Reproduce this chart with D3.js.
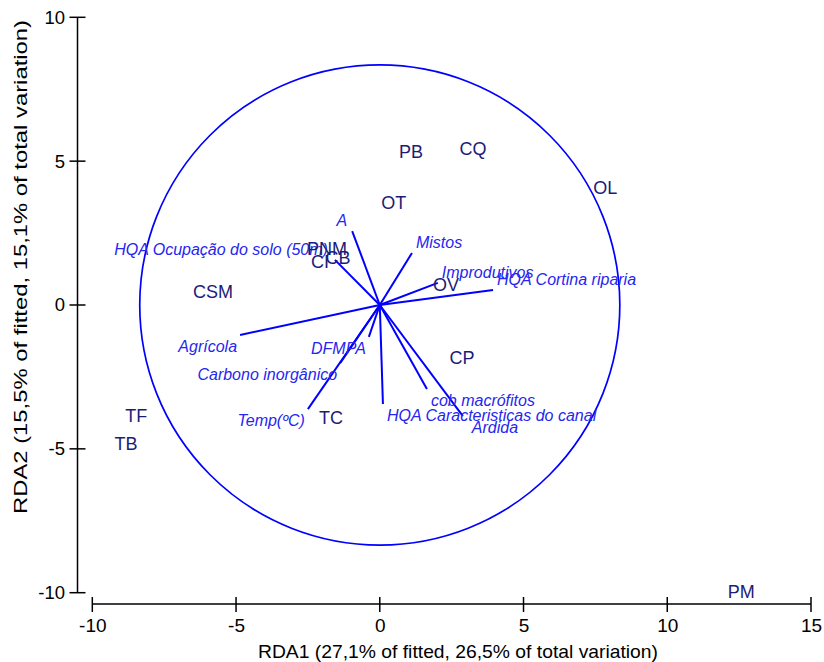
<!DOCTYPE html>
<html>
<head>
<meta charset="utf-8">
<script src="https://cdn.jsdelivr.net/npm/d3@7"></script>
<style>
  body { margin: 0; background: #fff; }
  svg { display: block; font-family: "Liberation Sans", Arial, sans-serif; }
</style>
</head>
<body>
<svg id="chart" width="824" height="662"></svg>
<script>
// ---- data ----
const siteNames = ["PB","CQ","OT","OL","PNM","CI","CB","CSM","OV","CP","TC","TF","TB","PM"];
const siteX     = [1.09, 3.24, 0.49, 7.84, -1.84, -2.08, -1.45, -5.80, 2.30, 2.86, -1.70, -8.47, -8.83, 12.57];
const siteY     = [5.32, 5.43, 3.55, 4.07, 1.95, 1.50, 1.63, 0.45, 0.70, -1.84, -3.90, -3.86, -4.83, -9.95];

const envNames = ["A","HQA Ocupação do solo (50m)","Mistos","Improdutivos","HQA Cortina riparia","Agrícola",
                  "DFMPA","Carbono inorgânico","Temp(ºC)","HQA Caracteristicas do canal","cob macrófitos","Ardida"];
const envX     = [-0.96, -1.56, 1.12, 2.02, 3.94, -4.86, -0.38, -1.38, -2.50, 0.11, 1.64, 2.89];
const envY     = [2.57, 1.57, 1.81, 0.77, 0.52, -1.04, -1.11, -2.02, -3.62, -3.44, -2.92, -3.86];

const circleRadius = 8.35;
const xTicks = [-10, -5, 0, 5, 10, 15];
const yTicks = [-10, -5, 0, 5, 10];
const xTitle = "RDA1 (27,1% of fitted, 26,5% of total variation)";
const yTitle = "RDA2 (15,5% of fitted, 15,1% of total variation)";

// ---- layout ----
const FONT = '"Liberation Sans", Arial, sans-serif';
const svg = d3.select("#chart");
const x = d3.scaleLinear().domain([-10, 15]).range([92.3, 811]);
const y = d3.scaleLinear().domain([-10, 10]).range([592.7, 17.3]);
const yAxisX = 77.5;
const xAxisY = 604;

// y axis
const yAx = svg.append("g").attr("transform", `translate(${yAxisX},0)`)
  .call(d3.axisLeft(y).tickValues(yTicks).tickSize(0).tickPadding(12.5).tickFormat(d => String(d)));
yAx.select(".domain").remove();
yAx.selectAll("text").attr("font-size", 18.5).attr("fill", "#000").attr("font-family", FONT);
svg.append("line").attr("x1", yAxisX).attr("x2", yAxisX).attr("y1", y(10)).attr("y2", y(-10))
  .attr("stroke", "#000").attr("stroke-width", 1.5);
svg.selectAll(".ytk").data(yTicks).join("line")
  .attr("x1", yAxisX - 8).attr("x2", yAxisX + 8)
  .attr("y1", d => y(d)).attr("y2", d => y(d))
  .attr("stroke", "#000").attr("stroke-width", 1.5);

// x axis
const xAx = svg.append("g").attr("transform", `translate(0,${xAxisY})`)
  .call(d3.axisBottom(x).tickValues(xTicks).tickSize(0).tickPadding(15).tickFormat(d => String(d)));
xAx.select(".domain").remove();
xAx.selectAll("text").attr("font-size", 19).attr("fill", "#000").attr("font-family", FONT);
svg.append("line").attr("x1", x(-10)).attr("x2", x(15)).attr("y1", xAxisY).attr("y2", xAxisY)
  .attr("stroke", "#000").attr("stroke-width", 1.5);
svg.selectAll(".xtk").data(xTicks).join("line")
  .attr("x1", d => x(d)).attr("x2", d => x(d))
  .attr("y1", xAxisY - 7).attr("y2", xAxisY + 8)
  .attr("stroke", "#000").attr("stroke-width", 1.5);

// axis titles
svg.append("text").attr("x", 458).attr("y", 658).attr("text-anchor", "middle")
  .attr("font-size", 19).attr("fill", "#000")
  .attr("textLength", 400).attr("lengthAdjust", "spacingAndGlyphs").text(xTitle);
svg.append("text").attr("transform", "translate(27,267) rotate(-90)").attr("text-anchor", "middle")
  .attr("font-size", 18.5).attr("fill", "#000")
  .attr("textLength", 494).attr("lengthAdjust", "spacingAndGlyphs").text(yTitle);

// circle
const pxPerUnit = x(1) - x(0);
svg.append("circle").attr("cx", x(0)).attr("cy", y(0)).attr("r", circleRadius * pxPerUnit)
  .attr("fill", "none").attr("stroke", "#0000ff").attr("stroke-width", 1.7);

// env arrows
const env = envNames.map((n, i) => ({ n, x: envX[i], y: envY[i] }));
svg.selectAll(".env").data(env).join("line")
  .attr("x1", x(0)).attr("y1", y(0))
  .attr("x2", d => x(d.x)).attr("y2", d => y(d.y))
  .attr("stroke", "#0000ff").attr("stroke-width", 2);

const labelNudgeX = { "HQA Ocupação do solo (50m)": -4, "A": -2, "Ardida": 5 };
svg.selectAll(".envlab").data(env).join("text")
  .attr("x", d => x(d.x) + (d.x < 0 ? -3 : 4) + (labelNudgeX[d.n] || 0))
  .attr("y", d => y(d.y) + (d.y > 0 ? -5 : 17))
  .attr("text-anchor", d => d.x < 0 ? "end" : "start")
  .attr("font-size", 16).attr("font-style", "italic").attr("fill", "#2626f0")
  .attr("font-family", FONT)
  .text(d => d.n);

// sites
const sites = siteNames.map((n, i) => ({ n, x: siteX[i], y: siteY[i] }));
svg.selectAll(".site").data(sites).join("text")
  .attr("x", d => x(d.x)).attr("y", d => y(d.y))
  .attr("dy", "0.35em").attr("text-anchor", "middle")
  .attr("font-size", 18).attr("fill", "#1c1c78").attr("font-family", FONT)
  .text(d => d.n);
</script>
</body>
</html>
